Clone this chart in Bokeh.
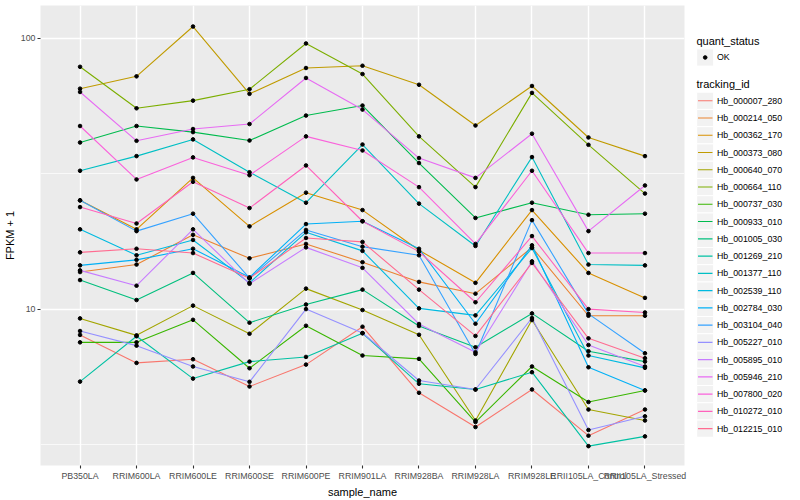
from bokeh.plotting import figure
from bokeh.models import FactorRange, Range1d, FixedTicker, BasicTickFormatter
from bokeh.layouts import row
from bokeh.embed import file_html
from bokeh.resources import INLINE
from bokeh.core.properties import value

# ---------------- data (FPKM + 1) ----------------
samples = ["PB350LA", "RRIM600LA", "RRIM600LE", "RRIM600SE", "RRIM600PE",
           "RRIM901LA", "RRIM928BA", "RRIM928LA", "RRIM928LE",
           "RRII105LA_Control", "RRII105LA_Stressed"]

tracking_ids = ["Hb_000007_280", "Hb_000214_050", "Hb_000362_170", "Hb_000373_080",
                "Hb_000640_070", "Hb_000664_110", "Hb_000737_030", "Hb_000933_010",
                "Hb_001005_030", "Hb_001269_210", "Hb_001377_110", "Hb_002539_110",
                "Hb_002784_030", "Hb_003104_040", "Hb_005227_010", "Hb_005895_010",
                "Hb_005946_210", "Hb_007800_020", "Hb_010272_010", "Hb_012215_010"]

colors = ["#F8766D", "#EA8331", "#D89000", "#C09B00", "#A3A500", "#7CAE00", "#39B600",
          "#00BB4E", "#00BF7D", "#00C1A3", "#00BFC4", "#00BAE0", "#00B0F6", "#35A2FF",
          "#9590FF", "#C77CFF", "#E76BF3", "#FA62DB", "#FF62BC", "#FF6C91"]

hb_000007_280 = [8.03, 6.33, 6.53, 5.18, 6.24, 8.61, 4.91, 3.67, 5.05, 3.41, 4.26]
hb_000214_050 = [13.7, 14.6, 18.8, 15.4, 17.4, 14.9, 12.6, 11.4, 16.9, 9.45, 9.45]
hb_000362_170 = [25.2, 19.7, 30.5, 20.2, 26.9, 23.2, 16.5, 12.5, 23.2, 13.6, 11.0]
hb_000373_080 = [65.1, 72.3, 110.4, 62.3, 77.6, 79.1, 67.3, 47.6, 66.6, 43.0, 36.7]
hb_000640_070 = [9.24, 8.00, 10.3, 8.11, 11.9, 9.92, 8.04, 3.88, 9.11, 4.26, 3.88]
hb_000664_110 = [78.4, 55.1, 58.8, 64.8, 95.6, 73.7, 43.4, 28.2, 62.8, 40.4, 26.7]
hb_000737_030 = [7.54, 7.54, 9.13, 6.05, 8.68, 6.74, 6.55, 3.83, 6.14, 4.54, 5.01]
hb_000933_010 = [41.2, 47.4, 45.0, 41.9, 51.8, 56.4, 34.6, 21.7, 24.7, 22.3, 22.5]
hb_001005_030 = [12.8, 10.8, 13.6, 8.91, 10.4, 11.8, 8.66, 7.23, 9.64, 6.99, 6.40]
hb_001269_210 = [5.40, 7.94, 5.54, 6.40, 6.66, 8.14, 5.30, 5.05, 5.85, 3.12, 3.39]
hb_001377_110 = [32.4, 36.7, 42.3, 32.0, 24.7, 40.5, 24.5, 17.1, 36.4, 14.6, 14.5]
hb_002539_110 = [19.7, 15.8, 18.0, 12.5, 19.2, 16.4, 10.06, 9.48, 16.8, 6.74, 6.07]
hb_002784_030 = [14.5, 15.2, 16.7, 13.1, 20.6, 21.1, 16.7, 8.83, 17.2, 6.10, 5.01]
hb_003104_040 = [25.2, 19.4, 22.5, 13.0, 19.6, 17.0, 15.8, 6.83, 21.3, 9.6, 6.87]
hb_005227_010 = [8.30, 7.33, 6.14, 5.39, 10.0, 8.16, 5.45, 5.05, 9.27, 3.58, 4.02]
hb_005895_010 = [13.9, 12.2, 19.7, 12.4, 16.9, 14.2, 8.81, 6.93, 15.0, 7.37, 6.14]
hb_005946_210 = [63.3, 41.8, 46.2, 48.2, 71.3, 54.5, 36.1, 30.5, 44.4, 19.4, 28.6]
hb_007800_020 = [47.4, 30.1, 36.3, 31.2, 43.4, 38.5, 28.2, 17.4, 32.4, 16.1, 16.1]
hb_010272_010 = [23.8, 20.7, 29.5, 23.6, 33.9, 21.1, 16.3, 10.6, 18.6, 10.0, 9.72]
hb_012215_010 = [16.2, 16.7, 16.1, 13.0, 18.3, 17.7, 11.8, 7.96, 14.8, 7.80, 6.59]

series = [hb_000007_280, hb_000214_050, hb_000362_170, hb_000373_080, hb_000640_070,
          hb_000664_110, hb_000737_030, hb_000933_010, hb_001005_030, hb_001269_210,
          hb_001377_110, hb_002539_110, hb_002784_030, hb_003104_040, hb_005227_010,
          hb_005895_010, hb_005946_210, hb_007800_020, hb_010272_010, hb_012215_010]

y_ticks = [10, 100]
y_minor = [3.1623, 31.623]

FONT = "Liberation Sans"

# ---------------- main panel ----------------
p = figure(width=690, height=500,
           x_range=FactorRange(factors=samples, range_padding=0.2, range_padding_units="absolute"),
           y_range=Range1d(2.647, 132.0), y_axis_type="log",
           output_backend="svg", toolbar_location=None,
           min_border_left=40, min_border_right=6, min_border_top=5, min_border_bottom=33)
p.background_fill_color = "#EBEBEB"
p.border_fill_color = "white"
p.outline_line_color = None

yt = FixedTicker(ticks=y_ticks, minor_ticks=y_minor)
p.yaxis.ticker = yt
p.ygrid.ticker = yt
p.yaxis.formatter = BasicTickFormatter()
p.ygrid.grid_line_color = "white"
p.ygrid.grid_line_width = 1.4
p.ygrid.minor_grid_line_color = "white"
p.ygrid.minor_grid_line_width = 0.7
p.xgrid.grid_line_color = "white"
p.xgrid.grid_line_width = 1.4

p.axis.axis_line_color = None
p.axis.major_tick_line_color = "#333333"
p.axis.major_tick_line_width = 1.1
p.axis.major_tick_in = 0
p.axis.major_tick_out = 3
p.axis.minor_tick_line_color = None
p.axis.minor_tick_in = 0
p.axis.minor_tick_out = 0
p.axis.major_label_text_font = FONT
p.axis.major_label_text_font_size = "8.8px"
p.axis.major_label_text_color = "#4D4D4D"
p.axis.major_label_standoff = 2
p.axis.axis_label_text_font = FONT
p.axis.axis_label_text_font_size = "11px"
p.axis.axis_label_text_font_style = "normal"
p.axis.axis_label_text_color = "black"
p.axis.axis_label_standoff = 2
p.xaxis.axis_label = "sample_name"
p.yaxis.axis_label = "FPKM + 1"

for vals, col in zip(series, colors):
    p.line(x=samples, y=vals, line_color=col, line_width=1.1)
for vals in series:
    p.scatter(x=samples, y=vals, size=3.6, color="black")

# ---------------- legend panel (frame aligned with main frame: y 5..467) ----------------
leg = figure(width=110, height=500, x_range=Range1d(690, 800), y_range=Range1d(467, 5),
             x_axis_type=None, y_axis_type=None,
             output_backend="svg", toolbar_location=None,
             min_border_left=0, min_border_right=0, min_border_top=5, min_border_bottom=33)
leg.outline_line_color = None
leg.background_fill_color = "white"
leg.border_fill_color = "white"

key_x = 704.7
label_x = 716.5
leg.text(x=[696], y=[40.5], text=["quant_status"], text_font=value(FONT),
         text_font_size="11px", text_baseline="middle", text_align="left", text_color="black")
leg.rect(x=[key_x], y=[57.2], width=17, height=17.3, fill_color="#F2F2F2",
         line_color="white", line_width=1)
leg.scatter(x=[key_x], y=[57.2], size=3.6, color="black")
leg.text(x=[label_x], y=[57.2], text=["OK"], text_font=value(FONT),
         text_font_size="8.8px", text_baseline="middle", text_align="left", text_color="black")

leg.text(x=[696], y=[84], text=["tracking_id"], text_font=value(FONT),
         text_font_size="11px", text_baseline="middle", text_align="left", text_color="black")
key_y = [100.7 + 17.33 * i for i in range(len(tracking_ids))]
leg.rect(x=[key_x] * len(key_y), y=key_y, width=17, height=17.33, fill_color="#F2F2F2",
         line_color="white", line_width=1)
leg.segment(x0=[697.5] * len(key_y), y0=key_y, x1=[712] * len(key_y), y1=key_y,
            line_color=colors, line_width=1.1)
leg.text(x=[label_x] * len(key_y), y=key_y, text=tracking_ids, text_font=value(FONT),
         text_font_size="8.8px", text_baseline="middle", text_align="left", text_color="black")

layout = row(p, leg)
open("out.html", "w").write(file_html(layout, INLINE))
